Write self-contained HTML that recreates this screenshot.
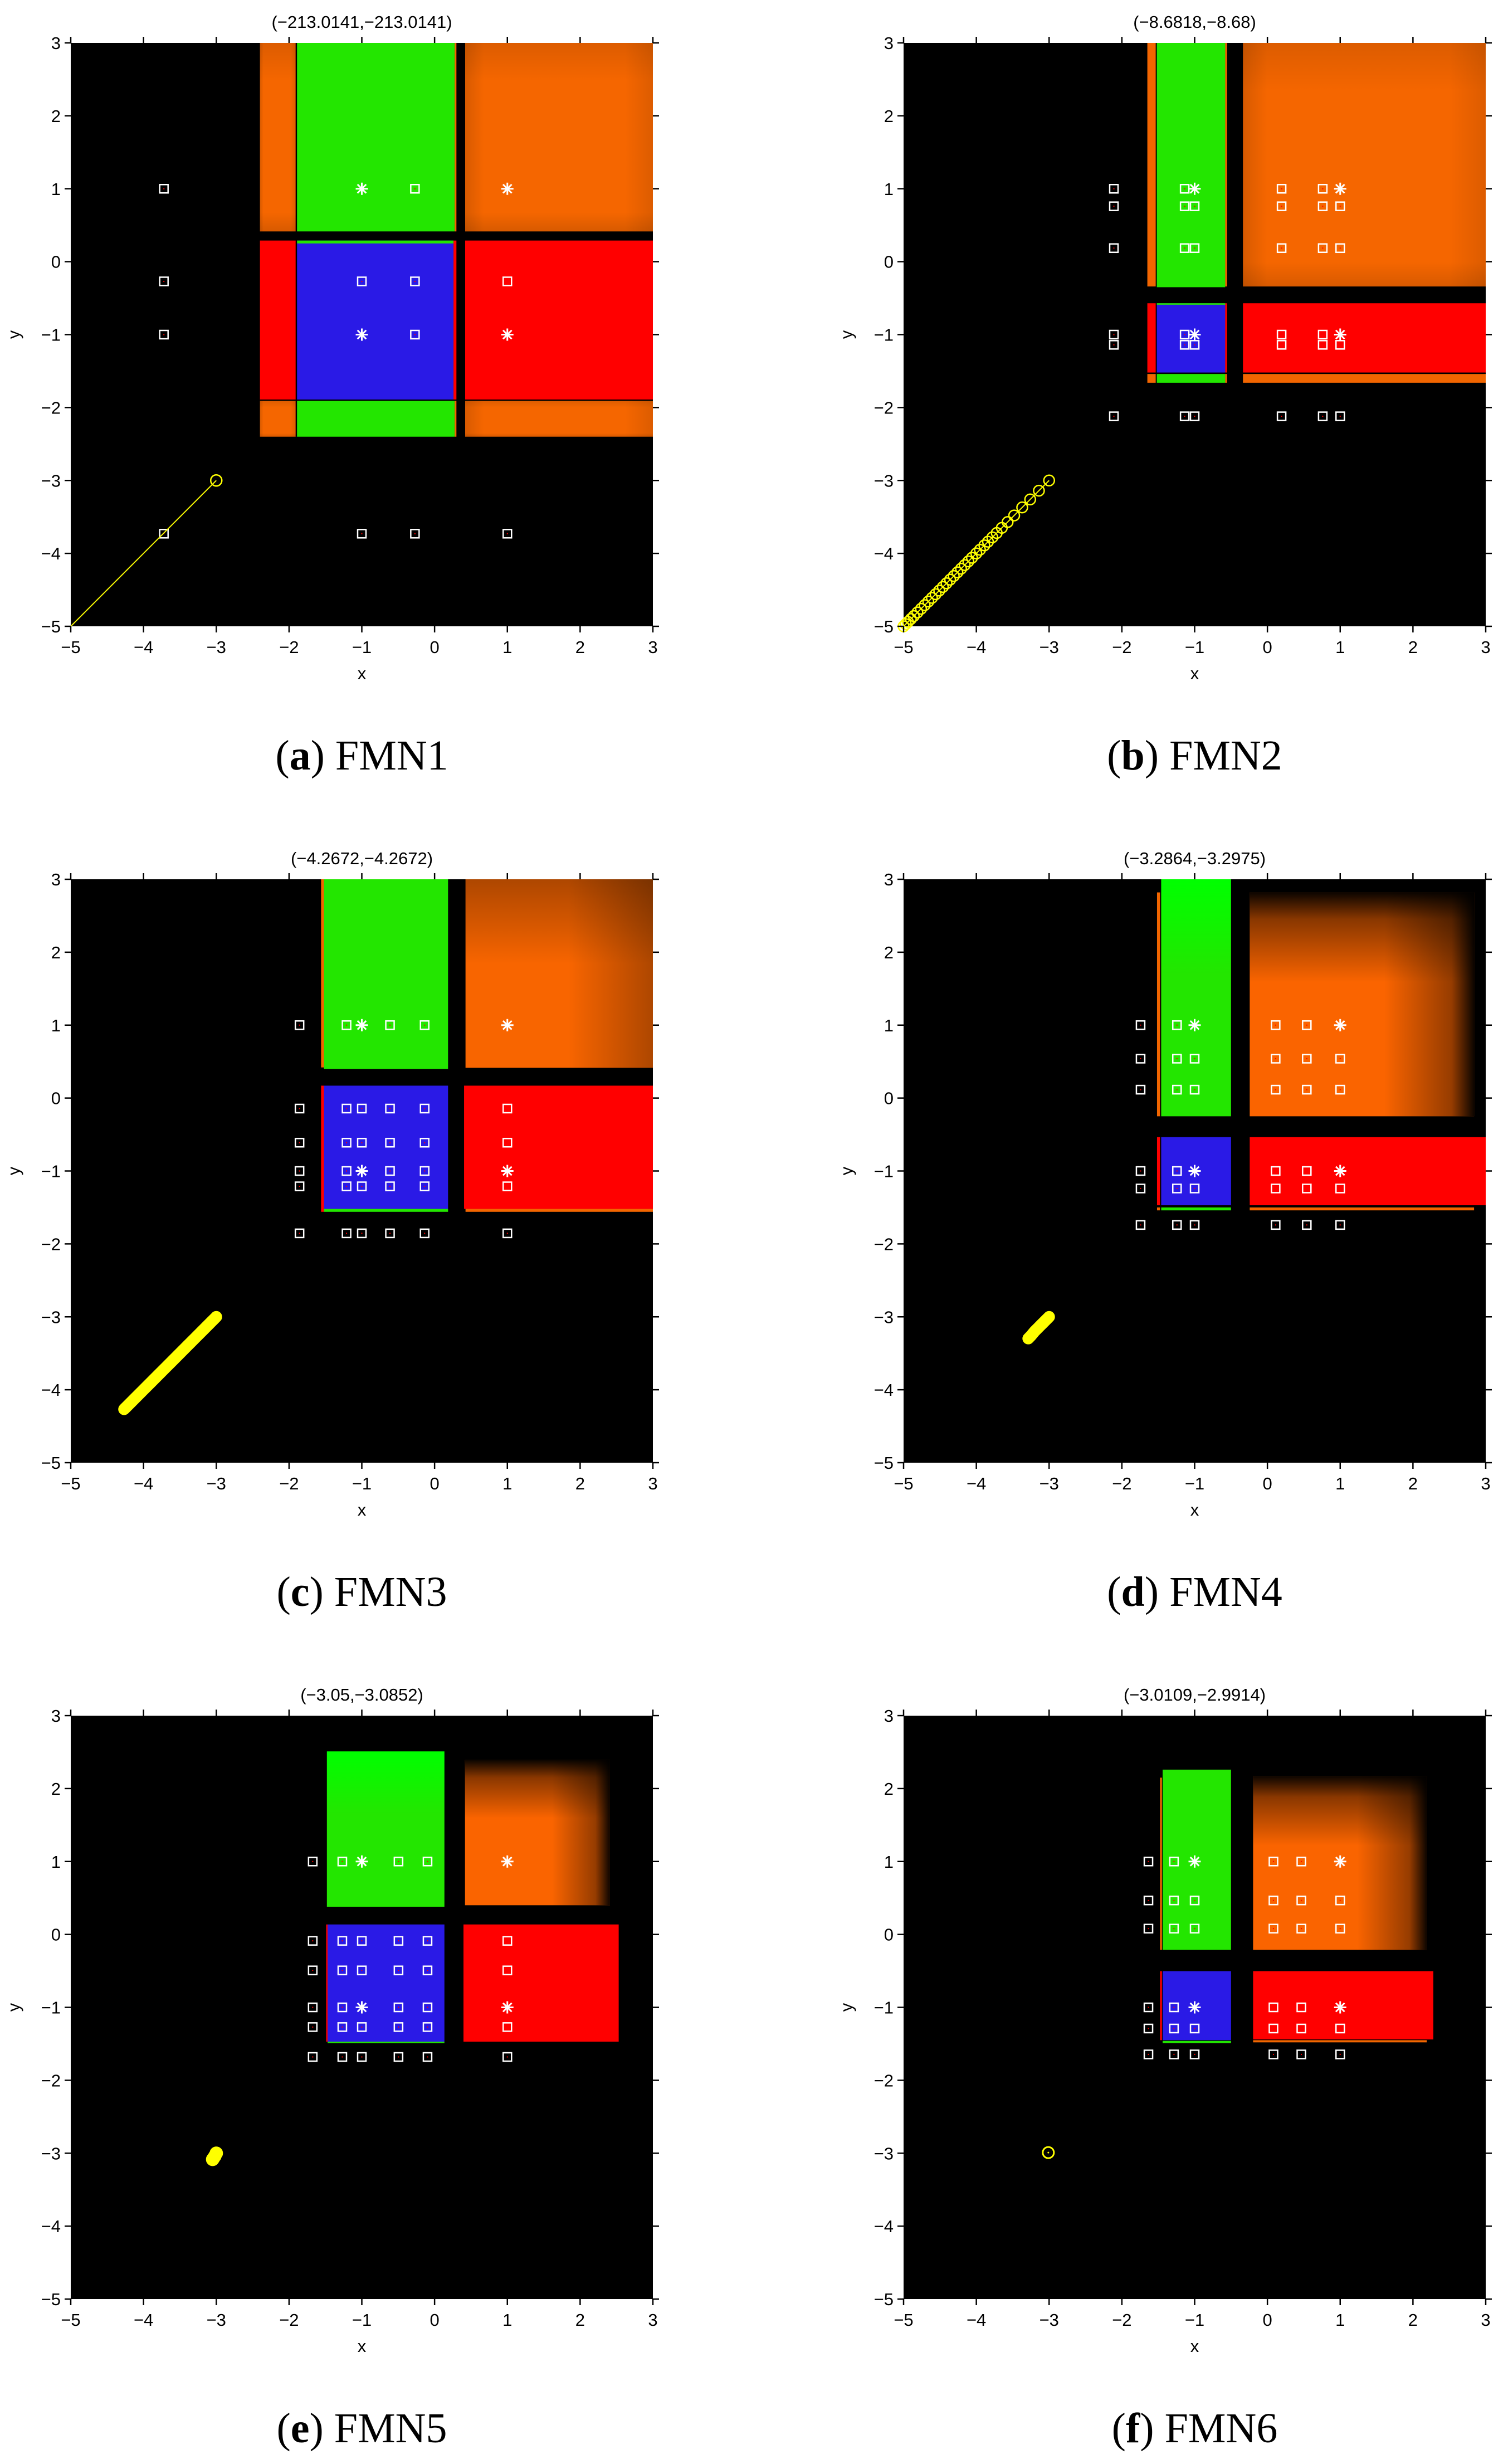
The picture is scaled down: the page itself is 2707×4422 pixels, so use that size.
<!DOCTYPE html>
<html><head><meta charset="utf-8"><style>
html,body{margin:0;padding:0;background:#fff;}
svg{display:block;}
</style></head><body>
<svg id="fig" xmlns="http://www.w3.org/2000/svg" width="2707" height="4422" viewBox="0 0 2707 4422">
<defs>
<linearGradient id="o1v" x1="0" y1="0" x2="0" y2="1"><stop offset="0" stop-color="#000" stop-opacity="0.1"/><stop offset="0.2" stop-color="#000" stop-opacity="0"/><stop offset="0.9" stop-color="#000" stop-opacity="0"/><stop offset="1" stop-color="#000" stop-opacity="0.12"/></linearGradient>
<linearGradient id="o1h" x1="0" y1="0" x2="1" y2="0"><stop offset="0" stop-color="#000" stop-opacity="0.12"/><stop offset="0.1" stop-color="#000" stop-opacity="0"/><stop offset="0.85" stop-color="#000" stop-opacity="0"/><stop offset="1" stop-color="#000" stop-opacity="0.1"/></linearGradient>
<linearGradient id="o2v" x1="0" y1="0" x2="0" y2="1"><stop offset="0" stop-color="#000" stop-opacity="0.3"/><stop offset="0.45" stop-color="#000" stop-opacity="0"/></linearGradient>
<linearGradient id="o2h" x1="0" y1="0" x2="1" y2="0"><stop offset="0.55" stop-color="#000" stop-opacity="0"/><stop offset="1" stop-color="#000" stop-opacity="0.3"/></linearGradient>
<linearGradient id="o3v" x1="0" y1="0" x2="0" y2="1"><stop offset="0" stop-color="#000" stop-opacity="0.95"/><stop offset="0.12" stop-color="#000" stop-opacity="0.45"/><stop offset="0.4" stop-color="#000" stop-opacity="0"/></linearGradient>
<linearGradient id="o3h" x1="0" y1="0" x2="1" y2="0"><stop offset="0.6" stop-color="#000" stop-opacity="0"/><stop offset="0.9" stop-color="#000" stop-opacity="0.4"/><stop offset="1" stop-color="#000" stop-opacity="0.95"/></linearGradient>
<linearGradient id="gv" x1="0" y1="0" x2="0" y2="1"><stop offset="0" stop-color="#00ff00"/><stop offset="0.4" stop-color="#23e600"/></linearGradient>
</defs>
</svg>
<script>
// ---- data ----
const titles = ["(\u2212213.0141,\u2212213.0141)","(\u22128.6818,\u22128.68)","(\u22124.2672,\u22124.2672)","(\u22123.2864,\u22123.2975)","(\u22123.05,\u22123.0852)","(\u22123.0109,\u22122.9914)"];
const captionLetters = ["a","b","c","d","e","f"];
const captionNames = ["FMN1","FMN2","FMN3","FMN4","FMN5","FMN6"];
const xTicks = [-5,-4,-3,-2,-1,0,1,2,3];
const yTicks = [3,2,1,0,-1,-2,-3,-4,-5];
// marker grids (squares everywhere, asterisks at (+-1,+-1))
const gridXA = [-3.72,-1,-0.27,1];           const gridYA = [1,-0.27,-1,-3.73];
const gridXB = [-2.11,-1.137,-1,0.195,0.76,1]; const gridYB = [1,0.76,0.186,-1,-1.14,-2.12];
const gridXC = [-1.856,-1.21,-1,-0.613,-0.137,1]; const gridYC = [1,-0.144,-0.612,-1,-1.21,-1.855];
const gridXD = [-1.743,-1.243,-1,0.113,0.541,1]; const gridYD = [1,0.54,0.115,-1,-1.24,-1.74];
const gridXE = [-1.675,-1.268,-1,-0.496,-0.097,1]; const gridYE = [1,-0.088,-0.493,-1,-1.27,-1.68];
const gridXF = [-1.635,-1.284,-1,0.083,0.466,1]; const gridYF = [1,0.466,0.08,-1,-1.29,-1.645];
// region rectangles [x0,x1,y0,y1,kind]
const regionsA = [[-2.40,-1.90,0.415,3,"o1"],[-1.90,0.276,0.415,3,"g"],[0.276,0.30,0.415,3,"o"],[0.42,3,0.415,3,"o1"],
 [-2.40,-1.90,-1.90,0.29,"r"],[-1.90,0.26,-1.90,0.29,"b"],[-1.90,0.26,0.25,0.29,"g"],[0.26,0.30,-1.90,0.29,"r"],[0.42,3,-1.90,0.29,"r"],
 [-2.40,-1.90,-2.40,-1.90,"o1"],[-1.90,0.276,-2.40,-1.90,"g"],[0.276,0.30,-2.40,-1.90,"o"],[0.42,3,-2.40,-1.90,"o1"]];
const regionsB = [[-1.65,-1.535,-0.34,3,"o"],[-1.52,-0.58,-0.35,3,"g"],[-0.58,-0.555,-0.34,3,"o"],[-0.336,3,-0.34,3,"o1"],
 [-1.65,-1.535,-1.52,-0.57,"r"],[-1.52,-0.58,-1.52,-0.57,"b"],[-0.58,-0.555,-1.52,-0.57,"r"],[-1.52,-0.58,-0.59,-0.57,"g"],[-0.336,3,-1.52,-0.57,"r"],
 [-1.65,-1.535,-1.66,-1.54,"o"],[-1.52,-0.58,-1.66,-1.54,"g"],[-0.58,-0.555,-1.66,-1.54,"o"],[-0.336,3,-1.66,-1.54,"o"]];
const regionsC = [[-1.56,-1.52,0.42,3,"o"],[-1.52,0.185,0.40,3,"g"],[0.425,3,0.415,3,"o2"],
 [-1.56,-1.52,-1.56,0.17,"r"],[-1.52,0.185,-1.52,0.17,"b"],[-1.52,0.185,-1.56,-1.52,"g"],[0.405,3,-1.52,0.17,"r"],[0.425,3,-1.56,-1.52,"o"]];
const regionsD = [[-1.517,-1.476,-0.25,2.82,"o"],[-1.46,-0.5,-0.25,3,"gg"],[-0.243,2.84,-0.25,2.82,"o3"],
 [-1.517,-1.476,-1.47,-0.536,"r"],[-1.46,-0.5,-1.47,-0.536,"b"],[-1.517,-1.476,-1.54,-1.5,"o"],[-1.46,-0.5,-1.54,-1.5,"g"],[-0.243,3,-1.47,-0.536,"r"],[-0.243,2.84,-1.54,-1.5,"o"]];
const regionsE = [[-1.48,0.135,0.38,2.51,"gg"],[0.418,2.41,0.40,2.39,"o3"],
 [-1.49,-1.47,-1.47,0.137,"r"],[-1.47,0.135,-1.47,0.137,"b"],[-1.47,0.135,-1.49,-1.47,"g"],[0.397,2.53,-1.47,0.137,"r"]];
const regionsF = [[-1.475,-1.45,-0.21,2.15,"o"],[-1.44,-0.5,-0.21,2.26,"g"],[-0.197,2.19,-0.21,2.17,"o3"],
 [-1.475,-1.45,-1.45,-0.503,"r"],[-1.44,-0.5,-1.45,-0.503,"b"],[-1.44,-0.5,-1.49,-1.46,"g"],[-0.197,2.28,-1.44,-0.503,"r"],[-0.197,2.19,-1.48,-1.45,"o"]];
// optimisation trajectories (x values; y values)
const trajAX = [-5,-3]; const trajAY = [-5,-3];
const trajBX = [-3,-3.14,-3.26,-3.37,-3.48,-3.57,-3.65,-3.72,-3.78,-3.84,-3.89,-3.95,-4.0,-4.06,-4.11,-4.16,-4.21,-4.26,-4.31,-4.36,-4.41,-4.46,-4.51,-4.56,-4.61,-4.66,-4.71,-4.76,-4.81,-4.86,-4.9,-4.94,-4.97,-5.0];
const trajBY = [-3,-3.14,-3.26,-3.37,-3.48,-3.57,-3.65,-3.72,-3.78,-3.84,-3.89,-3.95,-4.0,-4.06,-4.11,-4.16,-4.21,-4.26,-4.31,-4.36,-4.41,-4.46,-4.51,-4.56,-4.61,-4.66,-4.71,-4.76,-4.81,-4.86,-4.9,-4.94,-4.97,-5.0];
const trajCX = [-3,-3.1,-3.2,-3.3,-3.4,-3.5,-3.6,-3.7,-3.8,-3.9,-4.0,-4.1,-4.2,-4.2672];
const trajCY = [-3,-3.1,-3.2,-3.3,-3.4,-3.5,-3.6,-3.7,-3.8,-3.9,-4.0,-4.1,-4.2,-4.2672];
const trajDX = [-3,-3.05,-3.1,-3.15,-3.2,-3.25,-3.2864];
const trajDY = [-3,-3.05,-3.1,-3.15,-3.2,-3.26,-3.2975];
const trajEX = [-3,-3.02,-3.04,-3.05];
const trajEY = [-3,-3.04,-3.07,-3.0852];
const trajFX = [-3.0109];
const trajFY = [-2.9914];

const panels = [
 {gx:gridXA,gy:gridYA,reg:regionsA,tx:trajAX,ty:trajAY,style:"line"},
 {gx:gridXB,gy:gridYB,reg:regionsB,tx:trajBX,ty:trajBY,style:"circles"},
 {gx:gridXC,gy:gridYC,reg:regionsC,tx:trajCX,ty:trajCY,style:"thick"},
 {gx:gridXD,gy:gridYD,reg:regionsD,tx:trajDX,ty:trajDY,style:"thick"},
 {gx:gridXE,gy:gridYE,reg:regionsE,tx:trajEX,ty:trajEY,style:"blob"},
 {gx:gridXF,gy:gridYF,reg:regionsF,tx:trajFX,ty:trajFY,style:"single"}
];

const NS = "http://www.w3.org/2000/svg";
const svg = document.getElementById("fig");
function mk(tag, attrs, parent){const e=document.createElementNS(NS,tag);for(const k in attrs)e.setAttribute(k,attrs[k]);(parent||svg).appendChild(e);return e;}
const W=1045, H=1047;
const colors={o:"#f26500",o1:"#f56600",o2:"#f86500",o3:"#fa6400",g:"#23e600",gg:"#23e600",b:"#2a1ae6",r:"#ff0000"};

panels.forEach((p,i)=>{
 const col=i%2,row=Math.floor(i/2);
 const L=127+col*1495, T=77+row*1501;
 const sx=v=>L+(v+5)/8*W;
 const sy=v=>T+(3-v)/8*H;
 const g=mk("g",{});
 
 
 const bg=mk("rect",{x:L,y:T,width:W,height:H,fill:"#000"},g);
 
 
 // regions
 p.reg.forEach(r=>{
  const x=sx(r[0]),w=sx(r[1])-sx(r[0]),y=sy(r[3]),h=sy(r[2])-sy(r[3]);
  const k=r[4];
  const fill = k==="gg" ? "url(#gv)" : colors[k];
  const re=mk("rect",{x:x,y:y,width:w,height:h,fill:fill},g);
  
  
  if(k==="o1"||k==="o2"||k==="o3"){
   mk("rect",{x:x,y:y,width:w,height:h,fill:"url(#"+k+"v)"},g);
   mk("rect",{x:x,y:y,width:w,height:h,fill:"url(#"+k+"h)"},g);
  }
 });
 if(i===0){
  mk("line",{x1:sx(-1.9),y1:sy(3),x2:sx(-1.9),y2:sy(-2.4),stroke:"#000","stroke-width":2.5},g);
  mk("line",{x1:sx(-2.4),y1:sy(-1.9),x2:sx(3),y2:sy(-1.9),stroke:"#000","stroke-width":2.5},g);
 }
 // markers
 p.gy.forEach(yv=>{p.gx.forEach(xv=>{
  const cx=sx(xv),cy=sy(yv);
  if(Math.abs(Math.abs(xv)-1)<1e-9 && Math.abs(Math.abs(yv)-1)<1e-9){
   const a=mk("g",{stroke:"#fff","stroke-width":3},g);
   
   
   const R=11;
   for(let k=0;k<4;k++){const ang=k*Math.PI/4;mk("line",{x1:cx-R*Math.cos(ang),y1:cy-R*Math.sin(ang),x2:cx+R*Math.cos(ang),y2:cy+R*Math.sin(ang)},a);}
  } else {
   const s=mk("rect",{x:cx-7.5,y:cy-7.5,width:15,height:15,fill:"none",stroke:"#fff","stroke-width":2.5},g);
   
   
   mk("rect",{x:cx-1,y:cy-1,width:2,height:2,fill:"#f00"},g);
  }
 });});
 // trajectory
 const pts=p.tx.map((xv,j)=>sx(xv)+","+sy(p.ty[j])).join(" ");
 const tg=mk("g",{},g);
 
 
 if(p.style==="line"){
  mk("polyline",{points:pts,fill:"none",stroke:"#ffff00","stroke-width":2},tg);
  mk("circle",{cx:sx(p.tx[p.tx.length-1]),cy:sy(p.ty[p.ty.length-1]),r:10,fill:"none",stroke:"#ffff00","stroke-width":2.5},tg);
 } else if(p.style==="circles"){
  mk("polyline",{points:pts,fill:"none",stroke:"#ffff00","stroke-width":2},tg);
  p.tx.forEach((xv,j)=>{mk("circle",{cx:sx(xv),cy:sy(p.ty[j]),r:9.5,fill:"none",stroke:"#ffff00","stroke-width":2.5},tg);});
 } else if(p.style==="thick"){
  mk("polyline",{points:pts,fill:"none",stroke:"#ffff00","stroke-width":21,"stroke-linecap":"round","stroke-linejoin":"round"},tg);
 } else if(p.style==="blob"){
  mk("polyline",{points:pts,fill:"none",stroke:"#ffff00","stroke-width":18,"stroke-linecap":"round"},tg);
  p.tx.forEach((xv,j)=>{mk("circle",{cx:sx(xv),cy:sy(p.ty[j]),r:10,fill:"none",stroke:"#ffff00","stroke-width":4},tg);});
 } else {
  p.tx.forEach((xv,j)=>{mk("circle",{cx:sx(xv),cy:sy(p.ty[j]),r:10,fill:"none",stroke:"#ffff00","stroke-width":3},tg);
   mk("circle",{cx:sx(xv),cy:sy(p.ty[j]),r:1.5,fill:"#ffff00"},tg);});
 }
 // axes frame & ticks
 const ax=mk("g",{stroke:"#000","stroke-width":2.5},g);
 
 
 xTicks.forEach(v=>{
  const x=sx(v);
  mk("line",{x1:x,y1:T+H,x2:x,y2:T+H+11},ax);
  mk("line",{x1:x,y1:T,x2:x,y2:T-11},ax);
  const t=mk("text",{x:x,y:T+H+48,"font-family":"Liberation Sans, sans-serif","font-size":31,"text-anchor":"middle",fill:"#000",stroke:"none"},g);
  t.textContent=v<0?"\u2212"+(-v):String(v);
  
  
 });
 yTicks.forEach(v=>{
  const y=sy(v);
  mk("line",{x1:L-11,y1:y,x2:L,y2:y},ax);
  mk("line",{x1:L+W,y1:y,x2:L+W+11,y2:y},ax);
  const t=mk("text",{x:L-18,y:y+11,"font-family":"Liberation Sans, sans-serif","font-size":31,"text-anchor":"end",fill:"#000",stroke:"none"},g);
  t.textContent=v<0?"\u2212"+(-v):String(v);
  
  
 });
 const xl=mk("text",{x:L+W/2,y:T+H+95,"font-family":"Liberation Sans, sans-serif","font-size":31,"text-anchor":"middle",fill:"#000"},g);
 xl.textContent="x";
 
 
 const yl=mk("text",{x:0,y:0,"font-family":"Liberation Sans, sans-serif","font-size":31,"text-anchor":"middle",fill:"#000",transform:"translate("+(L-92)+","+(T+H/2)+") rotate(-90)"},g);
 yl.textContent="y";
 
 
 const tt=mk("text",{x:L+W/2,y:T-27,"font-family":"Liberation Sans, sans-serif","font-size":31,"text-anchor":"middle",fill:"#000"},g);
 tt.textContent=titles[i];
 
 
 const cp=mk("text",{x:L+W/2,y:T+1304,"font-family":"Liberation Serif, serif","font-size":76,"text-anchor":"middle",fill:"#000"},g);
 
 
 const s1=mk("tspan",{},cp); s1.textContent="(";
 const s2=mk("tspan",{"font-weight":"bold"},cp); s2.textContent=captionLetters[i];
 const s3=mk("tspan",{},cp); s3.textContent=") "+captionNames[i];
});
</script>
</body></html>
